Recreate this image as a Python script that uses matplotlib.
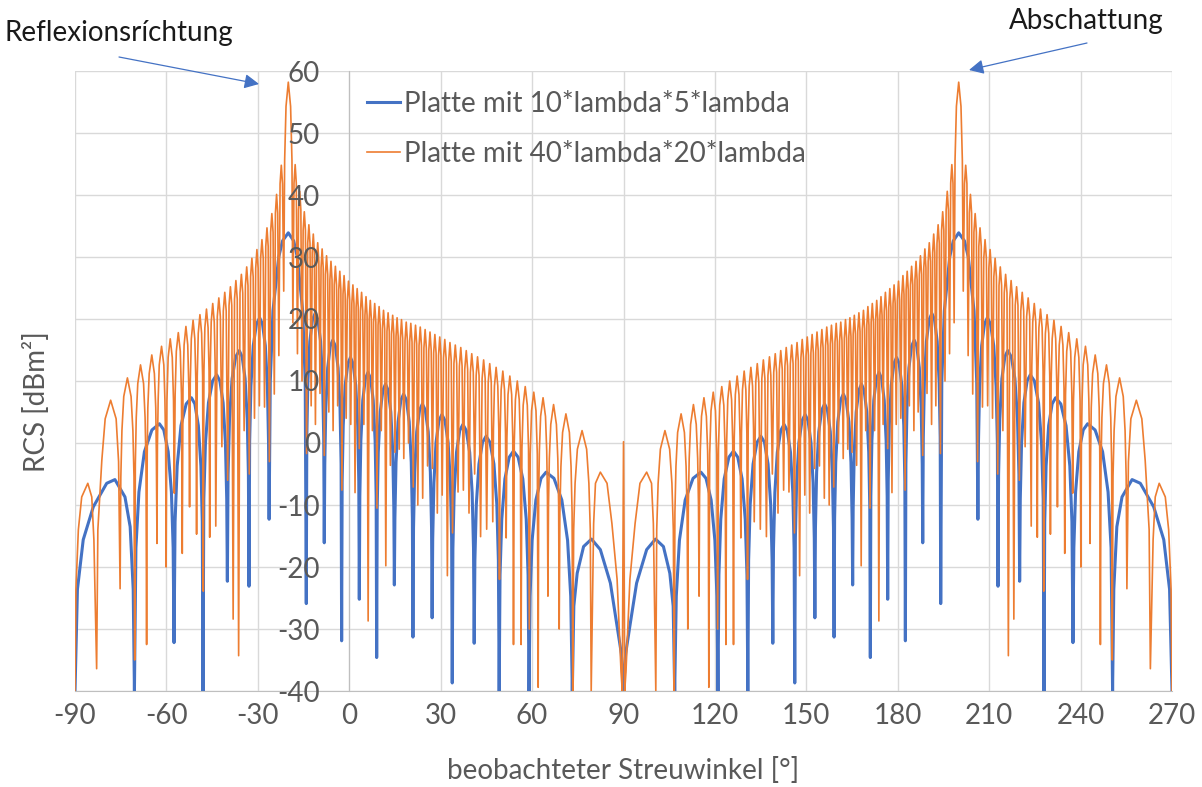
import matplotlib.pyplot as plt

plt.rcParams['font.family'] = ['Lato', 'DejaVu Sans']
plt.rcParams['axes.unicode_minus'] = False

# for -90..90 deg; the chart is mirror symmetric about 90 deg
# (angle [deg], RCS [dBm2]) points, the 90 deg point is the last one of each list
blue_half = [
    (-90, -40), (-89.2, -23.6), (-87.3, -15.6), (-84.0, -10.3), (-79.6, -6.5), (-76.9, -5.9),
    (-73.6, -8.7), (-71.9, -13.5), (-70.9, -23.6), (-70.5, -40),
    (-70.01, -16.9), (-69.02, -7.9), (-67.22, -1.4), (-64.76, 2.1), (-62.3, 3.1), (-60.86, 2.1),
    (-59.42, -1.4), (-58.36, -7.9), (-57.79, -16.9), (-57.5, -32.2),
    (-57.16, -12.7), (-56.47, -3.7), (-55.22, 2.8), (-53.51, 6.3), (-51.8, 7.3), (-50.66, 6.3),
    (-49.52, 2.8), (-48.68, -3.7), (-48.23, -12.7), (-48.0, -40),
    (-47.73, -9.0), (-47.19, 0.0), (-46.2, 6.5), (-44.85, 10.0), (-43.5, 11.0), (-42.45, 10.0),
    (-41.4, 6.5), (-40.63, 0.0), (-40.21, -9.0), (-40.0, -22.3),
    (-39.77, -5.1), (-39.3, 3.9), (-38.44, 10.4), (-37.27, 13.9), (-36.1, 14.9), (-35.14, 13.9),
    (-34.18, 10.4), (-33.48, 3.9), (-33.09, -5.1), (-32.9, -23.1),
    (-32.69, 0.2), (-32.27, 9.2), (-31.5, 15.7), (-30.45, 19.2), (-29.4, 20.2), (-28.47, 19.2),
    (-27.54, 15.7), (-26.86, 9.2), (-26.49, 0.2), (-26.3, -12.3),
    (-25.92, 9.9), (-25.04, 21.3), (-23.15, 30.0), (-21.89, 32.6), (-20.0, 33.9), (-18.23, 32.6),
    (-17.05, 30.0), (-15.28, 21.3), (-14.45, 9.9), (-14.1, -25.9),
    (-13.93, 0.9), (-13.58, 9.9), (-12.94, 16.4), (-12.07, 19.9), (-11.2, 20.9), (-10.3, 19.9),
    (-9.4, 16.4), (-8.74, 9.9), (-8.38, 0.9), (-8.2, -16.1),
    (-8.03, -3.4), (-7.7, 5.6), (-7.08, 12.1), (-6.24, 15.6), (-5.4, 16.6), (-4.53, 15.6),
    (-3.66, 12.1), (-3.02, 5.6), (-2.67, -3.4), (-2.5, -31.9),
    (-2.33, -6.2), (-1.98, 2.8), (-1.34, 9.3), (-0.47, 12.8), (0.4, 13.8), (1.27, 12.8),
    (2.14, 9.3), (2.78, 2.8), (3.13, -6.2), (3.3, -25.2),
    (3.47, -8.6), (3.81, 0.4), (4.44, 6.9), (5.3, 10.4), (6.15, 11.4), (7.01, 10.4),
    (7.86, 6.9), (8.49, 0.4), (8.83, -8.6), (9.0, -34.6),
    (9.17, -10.5), (9.52, -1.5), (10.16, 5.0), (11.03, 8.5), (11.9, 9.5), (12.77, 8.5),
    (13.64, 5.0), (14.28, -1.5), (14.63, -10.5), (14.8, -22.9),
    (14.98, -12.1), (15.35, -3.1), (16.02, 3.4), (16.94, 6.9), (17.85, 7.9), (18.77, 6.9),
    (19.68, 3.4), (20.35, -3.1), (20.72, -12.1), (20.9, -31.3),
    (21.09, -13.7), (21.46, -4.7), (22.14, 1.8), (23.07, 5.3), (24.0, 6.3), (24.96, 5.3),
    (25.92, 1.8), (26.62, -4.7), (27.01, -13.7), (27.2, -28.2),
    (27.39, -15.4), (27.78, -6.4), (28.48, 0.1), (29.44, 3.6), (30.4, 4.6), (31.42, 3.6),
    (32.44, 0.1), (33.19, -6.4), (33.6, -15.4), (33.8, -38.7),
    (34.01, -17.0), (34.43, -8.0), (35.2, -1.5), (36.25, 2.0), (37.3, 3.0), (38.41, 2.0),
    (39.52, -1.5), (40.33, -8.0), (40.78, -17.0), (41.0, -32.3),
    (41.23, -18.9), (41.7, -9.9), (42.56, -3.4), (43.73, 0.1), (44.9, 1.1), (46.19, 0.1),
    (47.48, -3.4), (48.43, -9.9), (48.94, -18.9), (49.2, -40),
    (49.48, -21.3), (50.05, -12.3), (51.08, -5.8), (52.49, -2.3), (53.9, -1.3), (55.43, -2.3),
    (56.96, -5.8), (58.08, -12.3), (58.69, -21.3), (59.0, -40),
    (59.34, -24.7), (60.01, -15.7), (61.24, -9.2), (62.92, -5.7), (64.6, -4.7), (67.18, -5.7),
    (69.76, -9.2), (71.65, -15.7), (72.68, -24.7), (73.2, -40),
    (73.7, -26.3), (74.8, -21.0), (76.9, -16.7), (79.5, -15.5), (82.4, -17.2), (85.7, -22.6),
    (87.9, -29.5), (89.3, -34.0), (90.0, -40),
]

orange_half = [
    (-90, -40), (-89.7, -23.6), (-88.9, -14.0), (-87.8, -8.7), (-85.8, -6.5), (-84.5, -8.7),
    (-83.8, -15.6), (-82.9, -36.4),
    (-82.5, -14.0), (-81.2, -2.8), (-80.1, 3.9), (-78.3, 6.9), (-76.5, 3.9), (-75.7, -3.0), (-75.2, -23.5),
    (-74.96, -5.5), (-74.6, 2.0), (-74.0, 7.5), (-72.8, 10.5), (-71.6, 7.5), (-71.0, 2.0), (-70.64, -5.5), (-70.4, -35.0),
    (-70.2, -3.4), (-69.9, 4.1), (-69.4, 9.6), (-68.5, 12.6), (-67.5, 9.6), (-67.0, 4.1), (-66.7, -3.4), (-66.5, -32.5),
    (-66.3, -1.8), (-66.1, 5.7), (-65.65, 11.2), (-64.8, 14.2), (-63.95, 11.2), (-63.5, 5.7), (-63.3, -1.8), (-63.1, -16.2),
    (-62.95, -0.4), (-62.7, 7.1), (-62.35, 12.6), (-61.6, 15.6), (-60.85, 12.6), (-60.5, 7.1), (-60.25, -0.4), (-60.1, -20.0),
    (-59.83, 6.8), (-59.43, 13.8), (-58.75, 16.8), (-58.08, 13.8), (-57.67, 6.8), (-57.4, -8.1),
    (-57.14, 7.8), (-56.75, 14.8), (-56.1, 17.8), (-55.45, 14.8), (-55.06, 7.8), (-54.8, -17.8),
    (-54.56, 8.8), (-54.2, 15.8), (-53.6, 18.8), (-53.0, 15.8), (-52.64, 8.8), (-52.4, -10.3),
    (-52.17, 9.8), (-51.83, 16.8), (-51.25, 19.8), (-50.68, 16.8), (-50.33, 9.8), (-50.1, -14.7),
    (-49.88, 10.7), (-49.55, 17.7), (-49.0, 20.7), (-48.45, 17.7), (-48.12, 10.7), (-47.9, -23.9),
    (-47.69, 11.6), (-47.38, 18.6), (-46.85, 21.6), (-46.33, 18.6), (-46.01, 11.6), (-45.8, -15.2),
    (-45.6, 12.5), (-45.3, 19.5), (-44.8, 22.5), (-44.3, 19.5), (-44.0, 12.5), (-43.8, -13.4),
    (-43.3, 20.4), (-42.8, 23.4), (-42.3, 20.4), (-41.8, -0.6),
    (-41.33, 21.3), (-40.85, 24.3), (-40.38, 21.3), (-39.9, -6.0),
    (-39.45, 22.2), (-39.0, 25.2), (-38.55, 22.2), (-38.1, -28.4),
    (-37.65, 23.2), (-37.2, 26.2), (-36.75, 23.2), (-36.3, -34.3),
    (-35.85, 24.2), (-35.4, 27.2), (-34.95, 24.2), (-34.5, 2.0),
    (-34.08, 25.4), (-33.65, 28.4), (-33.23, 25.4), (-32.8, -5.0),
    (-32.38, 26.8), (-31.95, 29.8), (-31.53, 26.8), (-31.1, 4.0),
    (-30.7, 28.2), (-30.3, 31.2), (-29.9, 28.2), (-29.5, 6.0),
    (-29.08, 29.8), (-28.65, 32.8), (-28.23, 29.8), (-27.8, 5.8),
    (-27.4, 31.7), (-27.0, 34.7), (-26.6, 31.7), (-26.2, -3.0),
    (-25.8, 34.0), (-25.4, 37.0), (-25.0, 34.0), (-24.6, 7.9),
    (-24.23, 37.1), (-23.85, 40.1), (-23.48, 37.1), (-23.1, 14.1),
    (-22.7, 41.8), (-22.3, 44.8), (-21.9, 41.8), (-21.5, 24.5),
    (-21.2, 45.6), (-20.75, 54.3), (-20.0, 58.2), (-19.25, 54.3), (-18.8, 45.6), (-18.5, 19.4),
    (-18.13, 41.9), (-17.75, 44.9), (-17.38, 41.9), (-17.0, 14.4),
    (-16.63, 37.6), (-16.25, 40.6), (-15.88, 37.6), (-15.5, 10.0),
    (-15.13, 34.3), (-14.75, 37.3), (-14.38, 34.3), (-14.0, -1.7),
    (-13.63, 32.2), (-13.25, 35.2), (-12.88, 32.2), (-12.5, 6.0),
    (-12.15, 30.7), (-11.8, 33.7), (-11.45, 30.7), (-11.1, 3.0),
    (-10.73, 29.3), (-10.35, 32.3), (-9.98, 29.3), (-9.6, 8.0),
    (-9.25, 28.3), (-8.9, 31.3), (-8.55, 28.3), (-8.2, -2.0),
    (-7.83, 27.2), (-7.45, 30.2), (-7.08, 27.2), (-6.7, 5.0),
    (-6.35, 26.3), (-6.0, 29.3), (-5.65, 26.3), (-5.3, 2.0),
    (-4.93, 25.5), (-4.55, 28.5), (-4.18, 25.5), (-3.8, 6.0),
    (-3.45, 24.7), (-3.1, 27.7), (-2.75, 24.7), (-2.4, -7.6),
    (-2.05, 24.0), (-1.7, 27.0), (-1.35, 24.0), (-1.0, 4.0),
    (-0.63, 23.1), (-0.25, 26.1), (0.13, 23.1), (0.5, 3.0),
    (0.85, 22.5), (1.2, 25.5), (1.55, 22.5), (1.9, -8.0),
    (2.25, 21.9), (2.6, 24.9), (2.95, 21.9), (3.3, -0.9),
    (3.68, 21.3), (4.05, 24.3), (4.43, 21.3), (4.8, 3.0),
    (5.15, 20.6), (5.5, 23.6), (5.85, 20.6), (6.2, -28.7),
    (6.55, 20.0), (6.9, 23.0), (7.25, 20.0), (7.6, 2.0),
    (7.98, 19.5), (8.35, 22.5), (8.73, 19.5), (9.1, -10.5),
    (9.45, 19.0), (9.8, 22.0), (10.15, 19.0), (10.5, 2.0),
    (10.88, 18.4), (11.25, 21.4), (11.63, 18.4), (12.0, -19.8),
    (12.38, 18.0), (12.75, 21.0), (13.13, 18.0), (13.5, -3.6),
    (13.88, 17.6), (14.25, 20.6), (14.63, 17.6), (15.0, -1.5),
    (15.35, 17.2), (15.7, 20.2), (16.05, 17.2), (16.4, -1.0),
    (16.78, 16.9), (17.15, 19.9), (17.53, 16.9), (17.9, -2.5),
    (18.3, 16.5), (18.7, 19.5), (19.08, 16.5), (19.45, 0.0),
    (19.83, 16.3), (20.2, 19.3), (20.6, 16.3), (21.0, -7.1),
    (21.38, 16.0), (21.75, 19.0), (22.13, 16.0), (22.5, -10.0),
    (22.9, 15.7), (23.3, 18.7), (23.7, 15.7), (24.1, -8.9),
    (24.5, 15.3), (24.9, 18.3), (25.3, 15.3), (25.7, -3.7),
    (26.1, 14.9), (26.5, 17.9), (26.9, 14.9), (27.3, -4.1),
    (27.7, 14.5), (28.1, 17.5), (28.5, 14.5), (28.9, -11.3),
    (29.3, 14.1), (29.7, 17.1), (30.1, 14.1), (30.5, -8.4),
    (30.93, 13.7), (31.35, 16.7), (31.78, 13.7), (32.2, -21.4),
    (32.63, 13.2), (33.05, 16.2), (33.48, 13.2), (33.9, -14.5),
    (34.35, 12.8), (34.8, 15.8), (35.25, 12.8), (35.7, -7.9),
    (36.15, 12.4), (36.6, 15.4), (37.03, 12.4), (37.45, -7.6),
    (37.9, 11.9), (38.4, 14.9), (38.85, 11.9), (39.3, -11.3),
    (39.75, 11.4), (40.2, 14.4), (40.7, 11.4), (41.15, -5.0),
    (41.65, 10.9), (42.1, 13.9), (42.6, 10.9), (43.1, -15.1),
    (43.6, 10.4), (44.1, 13.4), (44.6, 10.4), (45.1, -13.9),
    (45.6, 9.8), (46.1, 12.8), (46.6, 9.8), (47.1, -12.7),
    (47.32, 2.2), (47.65, 9.2), (48.2, 12.2), (48.75, 9.2), (49.08, 2.2), (49.3, -22.0),
    (49.52, 1.6), (49.85, 8.6), (50.4, 11.6), (50.95, 8.6), (51.28, 1.6), (51.5, -15.3),
    (51.74, 0.8), (52.1, 7.8), (52.7, 10.8), (53.3, 7.8), (53.66, 0.8), (53.9, -32.5),
    (54.15, 0.0), (54.53, 7.0), (55.15, 10.0), (55.78, 7.0), (56.15, 0.0), (56.4, -32.5),
    (56.67, -0.9), (57.08, 6.1), (57.75, 9.1), (58.43, 6.1), (58.83, -0.9), (59.1, -30.0),
    (59.39, -1.8), (59.83, 5.2), (60.55, 8.2), (61.28, 5.2), (61.71, -1.8), (62.0, -39.4),
    (62.16, -8.7), (62.4, -1.2), (62.8, 4.3), (63.6, 7.3), (64.4, 4.3), (64.8, -1.2), (65.04, -8.7), (65.2, -24.7),
    (65.39, -10.0), (65.66, -2.5), (66.13, 3.0), (67.05, 6.2), (67.98, 3.0), (68.44, -2.5), (68.72, -10.0), (68.9, -30.0),
    (69.12, -11.3), (69.46, -3.8), (70.01, 1.7), (71.1, 4.7), (72.24, 1.7), (72.79, -3.8), (73.13, -11.3), (73.35, -40.0),
    (73.65, -14.0), (74.11, -6.5), (74.86, -1.0), (76.4, 2.0), (77.9, -1.0), (78.64, -6.5), (79.1, -14.0), (79.4, -40.0),
    (80.2, -13.0), (80.8, -6.5), (82.4, -4.7), (84.6, -6.5), (86.2, -13.0), (87.9, -22.0), (89.2, -37.0),
    (89.6, -40.0), (90.0, 0.2),
]

series_labels = ['Platte mit 10*lambda*5*lambda', 'Platte mit 40*lambda*20*lambda']
x_ticks = [-90, -60, -30, 0, 30, 60, 90, 120, 150, 180, 210, 240, 270]
y_ticks = [-40, -30, -20, -10, 0, 10, 20, 30, 40, 50, 60]


def full_curve(half):
    # add the mirrored side (90..270 deg) to the read half
    ang = [a for a, _ in half]
    val = [v for _, v in half]
    ang_r = [180 - a for a in reversed(ang[:-1])]
    val_r = list(reversed(val[:-1]))
    return ang + ang_r, val + val_r


blue_x, blue_y = full_curve(blue_half)
orange_x, orange_y = full_curve(orange_half)

W, H = 1202, 787
FS = 20
fig = plt.figure(figsize=(W / 100, H / 100), dpi=100)
ax = fig.add_axes([75 / W, 1 - 691 / H, 1097 / W, 620 / H])

# gridlines drawn by hand so the tick labels can sit above the curves
for xt in x_ticks:
    ax.axvline(xt, color='#D9D9D9', linewidth=1.0, zorder=0.5)
for yt in y_ticks:
    ax.axhline(yt, color='#D9D9D9', linewidth=1.0, zorder=0.5)

ax.plot(blue_x, blue_y, color='#4472C4', linewidth=2.2, zorder=1.5, label=series_labels[0])
ax.plot(orange_x, orange_y, color='#ED7D31', linewidth=1.2, zorder=1.6, label=series_labels[1])

ax.set_xlim(-90, 270)
ax.set_ylim(-40, 60)
ax.set_xticks(x_ticks)
ax.set_yticks(y_ticks)
ax.set_axisbelow(False)

# vertical axis crosses at 0 deg like in the excel chart
ax.spines['left'].set_position(('data', 0))
ax.spines['left'].set_color('#BFBFBF')
ax.spines['bottom'].set_color('#BFBFBF')
ax.spines['left'].set_zorder(0.6)
ax.spines['bottom'].set_zorder(0.6)
ax.spines['top'].set_visible(False)
ax.spines['right'].set_visible(False)
ax.tick_params(length=0, labelsize=FS, labelcolor='#595959')
ax.tick_params(axis='y', pad=21)
ax.tick_params(axis='x', pad=9)

ax.set_xlabel('beobachteter Streuwinkel [°]', fontsize=FS, color='#595959', labelpad=20)
ax.set_ylabel('RCS [dBm²]', fontsize=FS, color='#595959')
ax.yaxis.set_label_coords(-0.023, 0.467)

ax.legend(loc='upper left', bbox_to_anchor=(367 / W, 1 - 91 / H), bbox_transform=fig.transFigure,
          frameon=False, fontsize=FS, labelcolor='#595959', handlelength=1.2,
          handletextpad=0.15, labelspacing=0.85, borderpad=0, borderaxespad=0)

# annotations above the plot
fig.text(119 / W, 1 - 33 / H, 'Reflexionsríchtung', ha='center', va='center', fontsize=FS, color='#1A1A1A')
fig.text(1086 / W, 1 - 21 / H, 'Abschattung', ha='center', va='center', fontsize=FS, color='#1A1A1A')
arrow = dict(arrowstyle='-|>', color='#4472C4', lw=0.9, mutation_scale=22, shrinkA=0, shrinkB=0)
ax.annotate('', xy=(259 / W, 1 - 84 / H), xycoords='figure fraction',
            xytext=(119 / W, 1 - 57 / H), textcoords='figure fraction', arrowprops=arrow)
ax.annotate('', xy=(969 / W, 1 - 70 / H), xycoords='figure fraction',
            xytext=(1087 / W, 1 - 43 / H), textcoords='figure fraction', arrowprops=arrow)

fig.savefig('out.png', dpi=100)
